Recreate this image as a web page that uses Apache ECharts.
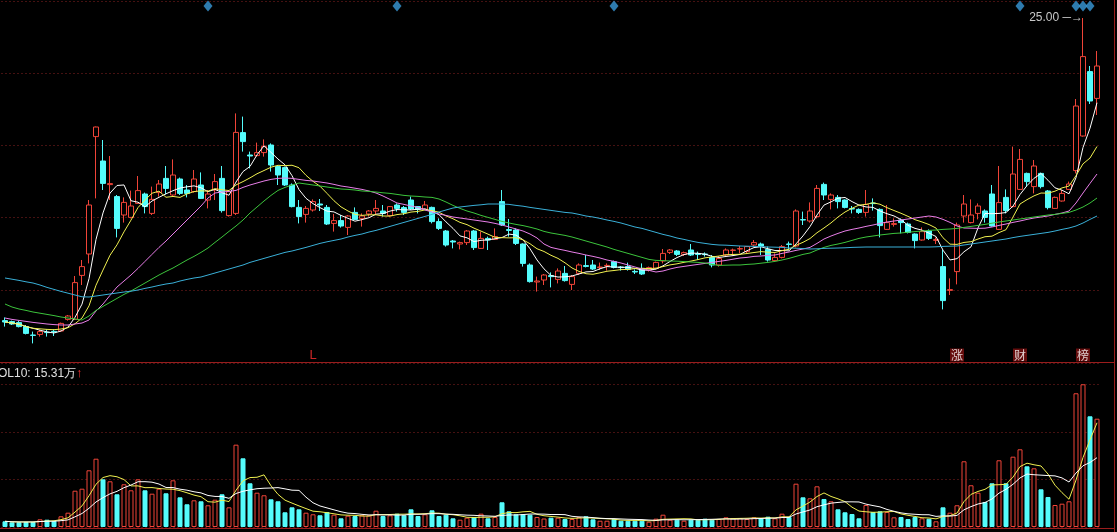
<!DOCTYPE html>
<html><head><meta charset="utf-8">
<script src="https://cdn.jsdelivr.net/npm/echarts@6/dist/echarts.min.js"></script>
<style>html,body{margin:0;padding:0;background:#000;overflow:hidden}#c{width:1117px;height:532px}</style>
</head><body><div id="c"></div>
<script>
// ---- data (prices in yuan, volume in 万) ----
const categories = Array.from({length: 157}, (_, i) => 'D' + (i + 1));
const openP = [
9.87,9.82,9.77,9.57,9.15,9.18,9.29,9.33,9.35,9.93,
9.93,12.13,13.2,19.07,17.85,16.67,16.07,15.15,15.03,15.73,
16.2,15.23,16.27,16.98,16.15,16.95,16.4,16.32,16.65,15.9,
16.4,16.98,15.12,15.23,19.27,18.15,18.12,18.27,18.65,17.57,
17.52,16.65,15.53,15.18,15.4,15.7,15.53,14.73,14.87,14.53,
15.28,14.98,15.2,15.35,15.35,15.12,15.65,15.52,15.9,15.57,
15.43,15.53,14.82,14.35,13.85,13.7,13.77,14.35,13.48,13.98,
13.93,15.82,14.42,14.4,13.7,12.65,11.8,11.9,12.12,11.93,
12.23,11.68,12.23,12.62,12.65,12.52,12.6,12.82,12.55,12.57,
12.33,12.48,12.4,12.48,12.85,13.28,13.35,13.18,13.4,13.22,
13.2,13.03,12.65,13.15,13.38,13.45,13.32,13.65,13.7,13.43,
12.87,13.03,13.7,13.6,14.92,14.85,15.07,16.68,15.93,16.03,
15.9,15.47,15.43,15.28,15.75,15.43,14.43,14.68,14.9,14.7,
14.2,13.9,14.35,13.88,12.57,11.38,12.32,15.1,14.77,15.23,
15.35,16.2,14.43,16.03,15.57,16.43,17.23,16.57,17.23,16.35,
15.48,15.85,16.43,17.37,19.1,22.32,20.98];
const closeP = [
9.8,9.7,9.57,9.23,9.13,9.32,9.27,9.3,9.73,10.1,
11.77,12.57,15.65,19.55,16.73,16.72,14.48,15.78,15.6,16.37,
15.57,15.93,16.7,16.48,17.15,16.23,16.23,16.95,15.98,16.2,
16.82,15.37,16.32,19.28,18.82,18.1,18.27,18.57,17.65,17.15,
16.65,15.57,15.07,15.48,15.82,15.65,14.7,14.87,14.6,15.1,
14.93,15.1,15.35,15.48,15.23,15.57,15.48,15.28,15.45,15.43,
15.65,14.82,14.48,13.65,13.8,13.77,14.35,13.52,13.98,13.9,
14.07,14.65,14.38,13.73,12.73,11.82,11.85,12.15,12.07,12.35,
11.87,12.07,12.65,12.58,12.45,12.55,12.63,12.53,12.52,12.43,
12.3,12.2,12.52,12.78,13.23,13.4,13.18,13.27,13.15,13.18,
13.17,12.65,12.98,13.4,13.4,13.47,13.57,13.77,13.6,12.9,
13.03,13.57,13.68,15.35,14.9,15.35,16.48,16.15,16.15,15.82,
15.53,15.45,15.28,15.68,15.72,14.62,14.77,14.72,14.77,14.28,
13.87,14.32,13.98,13.92,10.87,11.42,14.65,15.7,15.15,15.6,
15.03,14.6,15.77,15.37,17.2,17.93,16.82,17.6,16.57,15.52,
16.03,16.23,16.7,20.6,23.07,20.85,22.6];
const highP = [
10.03,9.87,9.87,9.65,9.32,9.4,9.43,9.43,9.77,10.15,
12.1,12.9,15.9,19.57,18.9,18.1,16.15,16.03,16.37,17.1,
16.27,16.57,16.9,17.6,17.93,17.02,16.65,17.4,17.28,16.4,
17.2,17.6,16.4,20.23,20.07,18.32,18.77,18.93,18.73,17.65,
17.57,16.73,15.9,15.6,15.93,15.95,15.65,15.2,15.15,15.15,
15.53,15.23,15.4,15.9,15.65,15.6,15.73,15.6,16.07,15.6,
15.85,15.57,14.98,14.4,13.9,13.82,14.4,14.4,14.32,14.07,
14.48,16.4,14.95,14.48,13.73,12.73,12.07,12.2,12.28,12.48,
12.6,12.15,12.73,13.15,12.9,12.77,12.73,12.87,12.6,12.77,
12.43,12.73,12.57,12.82,13.45,13.45,13.4,13.32,13.7,13.32,
13.28,13.15,13.1,13.48,13.47,13.6,13.6,13.9,13.77,13.57,
13.23,13.65,13.82,15.43,15.32,15.78,16.65,16.77,16.23,16.15,
15.93,15.6,15.48,16.4,15.98,15.48,15.65,14.98,14.98,14.77,
14.23,14.53,14.43,14.03,13.4,11.98,14.77,16.15,15.93,15.73,
15.43,16.65,17.6,16.43,18.57,18.45,17.27,17.9,17.27,16.4,
16.07,16.4,16.82,20.95,25.0,22.6,23.35];
const lowP = [
9.57,9.65,9.53,9.18,8.73,9.07,9.07,9.1,9.32,9.87,
9.9,11.65,12.73,15.98,16.4,15.9,14.03,14.77,14.98,15.7,
15.23,15.15,16.07,16.18,16.07,16.15,16.03,16.27,15.95,15.48,
15.9,15.27,15.07,15.15,18.32,17.48,18.07,18.07,17.32,16.65,
16.6,15.53,14.73,14.77,15.32,15.35,14.65,14.32,14.52,14.15,
14.9,14.57,15.07,15.15,15.07,15.07,15.32,15.15,15.4,15.23,
15.4,14.73,14.4,13.57,13.48,13.43,13.65,13.4,13.45,13.4,
13.9,14.6,14.07,13.65,12.57,11.77,11.32,11.65,11.53,11.73,
11.82,11.4,12.15,12.53,12.4,12.4,12.37,12.48,12.37,12.37,
12.2,12.15,12.32,12.43,12.73,13.2,13.1,13.1,13.1,12.9,
13.07,12.53,12.57,13.1,13.1,13.23,13.23,13.57,13.15,12.82,
12.82,12.98,13.4,13.53,14.65,14.77,14.98,15.9,15.43,15.48,
15.48,15.23,15.2,15.07,15.37,14.03,14.4,14.57,14.23,14.23,
13.48,13.87,13.9,13.7,10.43,11.15,11.68,14.77,14.73,14.93,
14.77,14.57,14.4,15.23,15.53,16.4,16.57,16.23,16.48,15.43,
15.45,15.82,16.4,17.23,19.07,20.7,20.15];
const volume = [
1.26,1.04,1.04,1.11,1.11,1.70,1.61,1.33,2.36,3.16,
8.02,8.46,12.53,15.09,10.54,10.10,7.23,9.44,8.11,10.54,
8.11,7.36,8.46,7.45,10.32,6.56,5.02,5.90,5.68,4.80,
6.03,7.23,4.35,18.19,15.18,9.66,7.58,7.01,6.12,5.68,
3.25,4.35,3.91,3.16,2.81,2.59,3.32,2.72,1.92,2.50,
2.43,2.59,2.59,3.60,2.43,2.59,2.94,2.59,3.91,2.43,
2.81,3.69,2.43,2.72,1.92,1.61,2.06,2.21,2.94,1.92,
2.21,5.46,3.47,2.81,2.81,2.72,2.21,1.88,2.06,2.06,
1.77,1.77,2.21,2.36,1.70,1.39,1.39,1.77,1.39,1.39,
1.39,1.39,1.17,1.83,2.72,1.61,1.61,1.39,1.61,1.61,
1.83,1.61,1.77,2.14,1.99,1.99,1.77,2.14,1.92,2.28,
1.92,2.94,2.21,9.57,6.56,6.34,8.99,6.19,5.68,3.91,
3.25,2.87,1.92,4.86,3.32,3.47,3.32,2.14,2.21,1.77,
2.21,1.92,1.83,1.26,4.35,3.16,4.80,14.52,9.22,7.58,
5.53,9.66,14.74,9.66,15.54,17.17,13.41,12.97,8.33,6.63,
4.86,5.15,5.68,29.55,31.54,24.46,23.93];
const ma20 = [
10.0,9.93,9.88,9.83,9.78,9.74,9.7,9.67,9.65,9.65,
9.7,9.75,9.9,10.35,10.7,11.13,11.55,11.85,12.15,12.48,
12.83,13.18,13.53,13.85,14.2,14.55,14.9,15.25,15.6,16.0,
16.25,16.3,16.33,16.38,16.53,16.65,16.75,16.85,16.93,16.98,
17.0,16.98,16.93,16.88,16.85,16.8,16.75,16.68,16.6,16.55,
16.49,16.43,16.35,16.25,16.1,15.93,15.75,15.68,15.6,15.53,
15.4,15.3,15.2,15.13,15.05,15.0,14.95,14.9,14.85,14.8,
14.73,14.65,14.55,14.45,14.35,14.2,14.0,13.7,13.53,13.45,
13.38,13.3,13.23,13.15,13.08,13.0,12.9,12.83,12.75,12.65,
12.55,12.45,12.38,12.3,12.35,12.45,12.53,12.58,12.63,12.68,
12.73,12.78,12.83,12.88,12.94,13.0,13.03,13.08,13.1,13.13,
13.15,13.23,13.3,13.38,13.45,13.53,13.73,13.95,14.1,14.23,
14.35,14.43,14.5,14.58,14.65,14.73,14.8,14.85,14.9,14.95,
15.0,15.05,15.1,15.05,14.93,14.78,14.6,14.5,14.49,14.48,
14.49,14.55,14.63,14.7,14.78,14.85,14.93,15.0,15.05,15.1,
15.18,15.25,15.35,15.75,16.25,16.73,17.2];
const ma30 = [
10.7,10.55,10.45,10.38,10.3,10.24,10.18,10.12,10.05,10.0,
9.95,9.9,10.1,10.38,10.58,10.78,10.98,11.18,11.35,11.55,
11.75,11.95,12.15,12.33,12.5,12.7,12.9,13.08,13.28,13.5,
13.78,14.05,14.33,14.6,14.9,15.25,15.55,15.85,16.13,16.38,
16.53,16.65,16.75,16.7,16.65,16.6,16.55,16.5,16.45,16.43,
16.4,16.35,16.33,16.3,16.26,16.23,16.18,16.13,16.1,16.08,
16.05,16.03,15.95,15.8,15.63,15.48,15.35,15.25,15.13,15.03,
14.93,14.83,14.75,14.68,14.62,14.54,14.45,14.33,14.25,14.19,
14.13,14.05,13.95,13.85,13.75,13.65,13.55,13.43,13.33,13.23,
13.13,13.03,12.93,12.88,12.87,12.85,12.84,12.82,12.8,12.78,
12.75,12.68,12.63,12.64,12.65,12.65,12.68,12.7,12.74,12.78,
12.83,12.9,12.98,13.08,13.18,13.25,13.4,13.53,13.63,13.7,
13.78,13.88,13.98,14.05,14.1,14.15,14.19,14.23,14.25,14.29,
14.32,14.35,14.38,14.4,14.43,14.45,14.48,14.53,14.58,14.63,
14.68,14.74,14.8,14.85,14.9,14.95,15.0,15.05,15.1,15.15,
15.18,15.23,15.28,15.4,15.55,15.75,16.0];
const ma60 = [
12.0,11.94,11.88,11.81,11.75,11.65,11.53,11.43,11.33,11.24,
11.15,11.06,11.05,11.1,11.15,11.2,11.25,11.3,11.34,11.4,
11.48,11.55,11.63,11.7,11.75,11.85,11.93,12.0,12.05,12.15,
12.25,12.35,12.45,12.55,12.65,12.78,12.88,12.98,13.08,13.18,
13.28,13.35,13.44,13.53,13.63,13.73,13.81,13.88,13.95,14.05,
14.13,14.2,14.3,14.38,14.48,14.58,14.68,14.78,14.88,14.98,
15.08,15.18,15.3,15.4,15.5,15.55,15.59,15.63,15.66,15.7,
15.7,15.7,15.68,15.63,15.59,15.53,15.48,15.43,15.38,15.33,
15.28,15.25,15.18,15.1,15.05,14.98,14.9,14.83,14.75,14.65,
14.55,14.48,14.38,14.28,14.18,14.1,14.0,13.93,13.85,13.78,
13.73,13.68,13.65,13.64,13.62,13.6,13.59,13.58,13.57,13.55,
13.54,13.53,13.5,13.49,13.47,13.45,13.46,13.48,13.49,13.5,
13.51,13.53,13.54,13.55,13.55,13.55,13.55,13.55,13.55,13.55,
13.55,13.55,13.55,13.56,13.58,13.59,13.6,13.65,13.7,13.75,
13.8,13.85,13.9,13.95,14.02,14.08,14.13,14.18,14.23,14.28,
14.35,14.43,14.5,14.6,14.75,14.93,15.1];
const signalDays = [29, 56, 87, 145, 153, 154, 155];
const labelDays = [44, 136, 145, 154];
const labelTexts = ['L', '涨', '财', '榜'];

// ---- derived ----
const avg = (arr, n) => arr.map((_, i) => {
  const s = arr.slice(Math.max(0, i - n + 1), i + 1);
  return +(s.reduce((a, b) => a + b, 0) / s.length).toFixed(3);
});
const ma5 = avg(closeP, 5), ma10 = avg(closeP, 10);
const vma5 = avg(volume, 5), vma10 = avg(volume, 10);
const candleData = openP.map((o, i) => [o, closeP[i], lowP[i], highP[i]]);
const maxHigh = Math.max(...highP), maxIdx = highP.indexOf(maxHigh);

const UP = '#f04438', DOWN = '#54fcfc', GRIDC = '#8a2222', FRAME = '#9c1c1c';
const Y_MIN = 7.8, Y_MAX = 25.85;
const volItems = volume.map((v, i) => {
  const up = closeP[i] >= openP[i];
  return {value: v, itemStyle: {color: up ? '#000' : DOWN, borderColor: up ? UP : DOWN, borderWidth: 1}};
});
const line = (data, color, xi, yi) => ({
  type: 'line', data, xAxisIndex: xi, yAxisIndex: yi, symbol: 'none', showSymbol: false,
  lineStyle: {color, width: 1}, z: 4, silent: true, animation: false
});
const lastV10 = vma10[vma10.length - 1].toFixed(2);

const chart = echarts.init(document.getElementById('c'));
chart.setOption({
  backgroundColor: '#000',
  animation: false,
  grid: [
    {left: 1.5, top: 1, width: 1099, height: 361},
    {left: 1.5, top: 363, width: 1099, height: 164}
  ],
  xAxis: [
    {type: 'category', data: categories, gridIndex: 0, boundaryGap: true, axisLine: {show: false}, axisTick: {show: false}, axisLabel: {show: false}, splitLine: {show: false}},
    {type: 'category', data: categories, gridIndex: 1, boundaryGap: true, axisLine: {show: false}, axisTick: {show: false}, axisLabel: {show: false}, splitLine: {show: false}}
  ],
  yAxis: [
    {type: 'value', gridIndex: 0, min: Y_MIN, max: Y_MAX, show: false, splitLine: {show: false}},
    {type: 'value', gridIndex: 0, min: 0, max: 5, interval: 1, axisLine: {show: false}, axisTick: {show: false}, axisLabel: {show: false},
     splitLine: {show: true, lineStyle: {color: GRIDC, type: [1, 3], width: 1}}},
    {type: 'value', gridIndex: 1, min: 0, max: 36.24, interval: 10.5, axisLine: {show: false}, axisTick: {show: false}, axisLabel: {show: false},
     splitLine: {show: true, lineStyle: {color: GRIDC, type: [1, 3], width: 1}}}
  ],
  series: [
    {type: 'candlestick', data: candleData, xAxisIndex: 0, yAxisIndex: 0, barWidth: 5, z: 3, silent: true,
     itemStyle: {color: '#000', color0: DOWN, borderColor: UP, borderColor0: DOWN, borderWidth: 1},
     markPoint: {symbol: 'circle', symbolSize: 0, silent: true, animation: false,
       data: [{coord: [maxIdx, maxHigh], value: maxHigh}],
       label: {show: true, position: 'left', distance: 0, formatter: maxHigh.toFixed(2) + ' ─→',
         color: '#c8c8c8', fontSize: 12, fontFamily: 'Liberation Sans, Arial, sans-serif'}}},
    line(ma5, '#ffffff', 0, 0),
    line(ma10, '#f0f050', 0, 0),
    line(ma20, '#e87ee8', 0, 0),
    line(ma30, '#3cc43c', 0, 0),
    line(ma60, '#3ab0d8', 0, 0),
    {type: 'scatter', xAxisIndex: 0, yAxisIndex: 0, symbol: 'diamond', symbolSize: [9, 11], silent: true,
     itemStyle: {color: '#3a9ad9'}, data: signalDays.map(d => [d, Y_MAX - 0.25]), z: 5},
    {type: 'scatter', xAxisIndex: 0, yAxisIndex: 0, symbolSize: 0, silent: true, z: 5,
     data: labelDays.map((d, k) => ({value: [d, Y_MIN + 0.35], name: labelTexts[k],
       label: k === 0 ? {color: '#ff3030', backgroundColor: 'transparent', fontSize: 13, fontFamily: 'Liberation Sans, Arial, sans-serif'} : {}})),
     label: {show: true, position: 'inside', formatter: '{b}', color: '#ffffff', backgroundColor: '#7e1010',
       fontSize: 12, padding: [1, 1, 0, 1], fontFamily: 'Noto Sans CJK SC, sans-serif'}},
    {type: 'bar', data: volItems, xAxisIndex: 1, yAxisIndex: 2, barWidth: 5, silent: true, z: 3},
    line(vma5, '#f0f050', 1, 2),
    line(vma10, '#ffffff', 1, 2)
  ],
  graphic: [
    {type: 'line', silent: true, shape: {x1: 0, y1: 362.5, x2: 1114, y2: 362.5}, style: {stroke: FRAME, lineWidth: 1}},
    {type: 'line', silent: true, shape: {x1: 0, y1: 528.5, x2: 1114, y2: 528.5}, style: {stroke: FRAME, lineWidth: 1}},
    {type: 'line', silent: true, shape: {x1: 1114.5, y1: 0, x2: 1114.5, y2: 532}, style: {stroke: FRAME, lineWidth: 1}},
    {type: 'text', silent: true, x: -10, y: 367,
     style: {text: '{a|VOL10: ' + lastV10 + '万}{b|↑}',
       rich: {a: {fill: '#e0e0e0', color: '#e0e0e0', fontSize: 12, fontFamily: 'Liberation Sans, Arial, sans-serif'},
              b: {fill: '#ff3030', color: '#ff3030', fontSize: 13}}}}
  ]
});
</script></body></html>
